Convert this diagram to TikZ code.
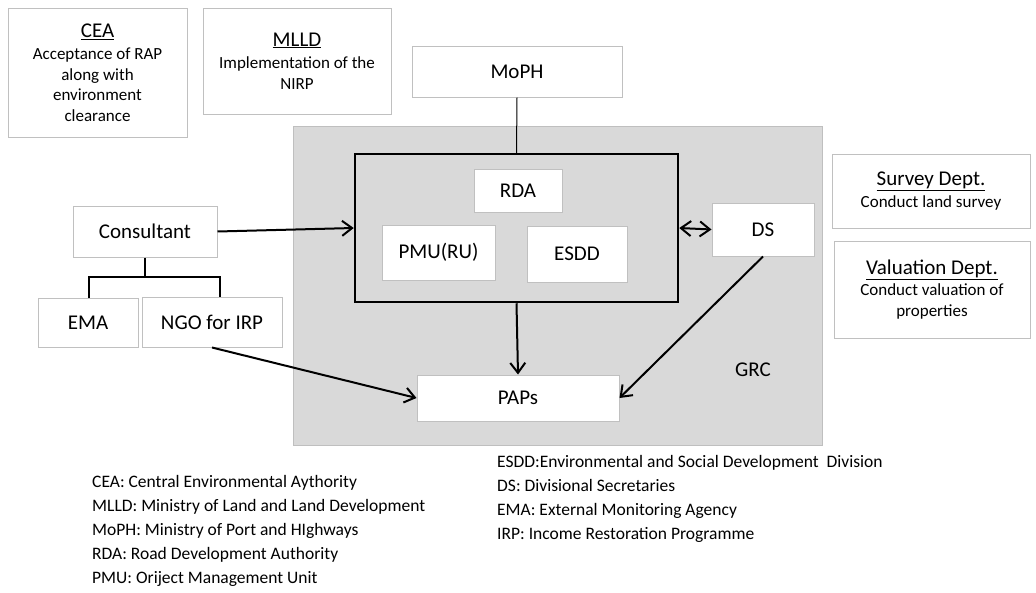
\documentclass[tikz,border=0pt]{standalone}
\usepackage{fontspec}
\setmainfont{Carlito}
\usetikzlibrary{arrows.meta}
\definecolor{boxline}{HTML}{C0C0C0}
\definecolor{greyfill}{HTML}{D9D9D9}
\definecolor{greyline}{HTML}{BFBFBF}
\begin{document}
\begin{tikzpicture}[x=1pt,y=-1pt,
  box/.style={draw=boxline,line width=1pt,fill=white,inner sep=0pt,align=center,
    font=\fontsize{21}{24}\selectfont},
  infobox/.style={box,font=\fontsize{17}{20.5}\selectfont},
  conn/.style={line width=2pt,-{Straight Barb[length=10pt,width=15pt,line width=2pt]}},
  dconn/.style={line width=2pt,{Straight Barb[length=10pt,width=15pt,line width=2pt]}-{Straight Barb[length=10pt,width=15pt,line width=2pt]}},
  legend/.style={anchor=base west,inner sep=0pt,font=\fontsize{17.5}{20}\selectfont}]
\useasboundingbox (0,0) rectangle (1036,592);
\fill[white] (0,0) rectangle (1036,592);

% GRC grey area
\node[draw=greyline,fill=greyfill,line width=1pt,minimum width=529pt,minimum height=319pt,inner sep=0pt] (grc) at (557.5,285.5) {};
\node[font=\fontsize{21}{24}\selectfont] (grclabel) at (753,370) {GRC};

% core block
\node[draw=black,line width=2.5pt,minimum width=323pt,minimum height=148pt,inner sep=0pt] (core) at (516.5,228) {};
\node[box,minimum width=88pt,minimum height=43pt] (rda) at (518,190.5) {RDA};
\node[box,minimum width=113pt,minimum height=55pt] (pmu) at (438.5,252.5) {PMU(RU)};
\node[box,minimum width=100pt,minimum height=56pt] (esdd) at (577,254) {ESDD};

\node[box,minimum width=202pt,minimum height=46pt] (paps) at (518,398) {PAPs};
\node[box,minimum width=102pt,minimum height=53pt] (ds) at (763,229.5) {DS};

% top boxes
\node[infobox,minimum width=179pt,minimum height=129pt] (cea) at (97.5,72.5)
  {{\fontsize{21}{24}\selectfont\underline{CEA}}\\[2pt]Acceptance of RAP\\along with\\environment\\clearance};
\node[infobox,minimum width=188pt,minimum height=106pt] (mlld) at (297,61)
  {{\fontsize{21}{24}\selectfont\underline{MLLD}}\\[2pt]Implementation of the\\NIRP};
\node[box,minimum width=210pt,minimum height=51pt] (moph) at (517,71.5) {MoPH};

% right boxes
\node[infobox,minimum width=198pt,minimum height=74pt] (survey) at (931,191)
  {{\fontsize{21}{24}\selectfont\underline{Survey Dept.}}\\[1pt]Conduct land survey};
\node[infobox,minimum width=196pt,minimum height=97pt] (valuation) at (932,289.5)
  {{\fontsize{21}{24}\selectfont\underline{Valuation Dept.}}\\[1pt]Conduct valuation of\\properties};

% left boxes
\node[box,minimum width=144pt,minimum height=51pt] (consultant) at (145,231.5) {Consultant};
\node[box,minimum width=100pt,minimum height=49pt] (ema) at (88,322.5) {EMA};
\node[box,minimum width=140pt,minimum height=50pt] (ngo) at (212,322) {NGO for IRP};

% connectors
\draw[line width=1pt] (moph.south) -- (core.north);
\draw[conn] (consultant.east) -- (core.west);
\draw[dconn] (core.east) -- (ds.west);
\draw[conn] (core.south) -- (paps.north);
\draw[conn] (ngo.south) -- (paps.west);
\draw[conn] (ds.south) -- (paps.east);
\coordinate (junction) at (145,277);
\draw[line width=1.5pt] (consultant.south) -- (junction);
\draw[line width=1.5pt] ([xshift=1pt]ema.north) |- (junction) -| ([xshift=8pt]ngo.north);

% legend
\node[legend] (l1) at (92,487) {CEA: Central Environmental Aythority};
\node[legend] (l2) at (92,511) {MLLD: Ministry of Land and Land Development};
\node[legend] (l3) at (92,535) {MoPH: Ministry of Port and HIghways};
\node[legend] (l4) at (92,559) {RDA: Road Development Authority};
\node[legend] (l5) at (92,583) {PMU: Oriject Management Unit};
\node[legend] (r1) at (497,467) {ESDD:Environmental and Social Development\ \ Division};
\node[legend] (r2) at (497,491) {DS: Divisional Secretaries};
\node[legend] (r3) at (497,515) {EMA: External Monitoring Agency};
\node[legend] (r4) at (497,539) {IRP: Income Restoration Programme};
\end{tikzpicture}
\end{document}
